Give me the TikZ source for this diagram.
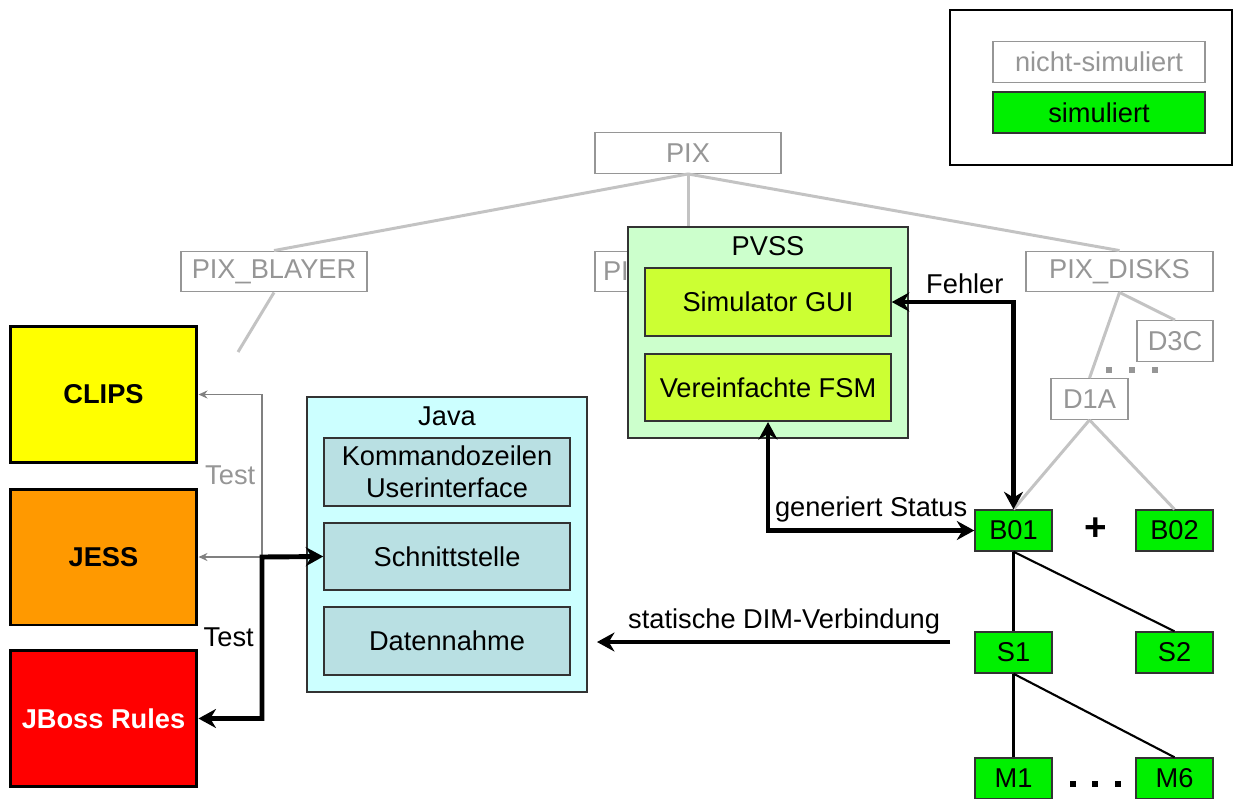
\documentclass[tikz,border=0pt]{standalone}
\usepackage{fontspec}
\setmainfont{Liberation Sans}
\usetikzlibrary{calc, arrows.meta, positioning}
\definecolor{pixgray}{RGB}{150,150,150}
\definecolor{linegray}{RGB}{195,195,195}
\definecolor{simgreen}{RGB}{0,240,0}
\definecolor{clipsyellow}{RGB}{255,255,0}
\definecolor{jessorange}{RGB}{255,153,0}
\definecolor{jbossred}{RGB}{255,0,0}
\definecolor{javacyan}{RGB}{204,255,255}
\definecolor{javabox}{RGB}{185,224,227}
\definecolor{pvssgreen}{RGB}{204,255,204}
\definecolor{pvssbox}{RGB}{204,255,51}

\begin{document}
\begin{tikzpicture}[x=0.02cm, y=-0.02cm, font=\fontsize{15.5}{18}\selectfont,
    fsmnode/.style={draw=pixgray, line width=0.8pt, fill=white, text=pixgray, minimum height=0.81cm},
    simnode/.style={draw=black!80, line width=0.8pt, fill=simgreen, minimum width=1.54cm, minimum height=0.82cm},
    engine/.style={draw=black, line width=1.7pt, minimum width=3.74cm, minimum height=2.72cm, font=\fontsize{15.5}{18}\selectfont\bfseries},
    layer/.style={draw=black!80, line width=0.9pt},
    modbox/.style={draw=black!80, line width=0.9pt, minimum width=4.92cm, minimum height=1.35cm, align=center},
    treeline/.style={draw=linegray, line width=1.7pt},
    simline/.style={draw=black, line width=1.2pt},
    bigarrow/.style={line width=2.8pt, >={Stealth[length=0.35cm, width=0.38cm]}},
    testarrow/.style={draw=gray, line width=1.1pt, ->, >={Stealth[length=0.18cm, width=0.16cm]}}]
  \useasboundingbox (0,0) rectangle (1233,798);

  % legend
  \node[draw=black, line width=0.8pt, minimum width=5.64cm, minimum height=3.1cm] (legend) at (1091,87.5) {};
  \node[fsmnode, minimum width=4.24cm] (nichtsim) at (1099,62) {nicht-simuliert};
  \node[simnode, minimum width=4.24cm] (sim) at (1099,112.5) {simuliert};

  % PIX hierarchy
  \node[fsmnode, minimum width=3.72cm] (pix) at (688,153) {PIX};
  \node[fsmnode, minimum width=3.72cm] (blayer) at (274,271.5) {PIX\_BLAYER};
  \node[fsmnode, minimum width=3.72cm, text width=3.4cm, align=left] (pi) at (688,271.5) {PI};
  \node[fsmnode, minimum width=3.74cm] (disks) at (1119.5,271.5) {PIX\_DISKS};
  \node[fsmnode, minimum width=1.52cm] (d3c) at (1175,341) {D3C};
  \node[fsmnode, minimum width=1.54cm] (d1a) at (1089.5,399) {D1A};
  \foreach \dx in {0,23,46}
    \fill[pixgray] (1106+\dx,367) rectangle ++(6,6);
  \coordinate (blfade) at (238,352);

  \node[simnode] (b01) at (1013.5,530.5) {B01};
  \node[simnode] (b02) at (1174.5,530.5) {B02};
  \node[simnode] (s1) at (1013.5,652.5) {S1};
  \node[simnode] (s2) at (1174.5,652.5) {S2};
  \node[simnode] (m1) at (1013.5,778.5) {M1};
  \node[simnode] (m6) at (1174.5,778.5) {M6};
  \node[font=\fontsize{22}{22}\selectfont\bfseries] (plus) at (1096,529) {+};
  \foreach \dx in {0,22,45}
    \fill[black] (1070+\dx,781) rectangle ++(6,6);

  \draw[treeline] (pix.south) -- (blayer.north);
  \draw[treeline] (pix.south) -- (pi.north);
  \draw[treeline] (pix.south) -- (disks.north);
  \draw[treeline] (blayer.south) -- (blfade);
  \draw[treeline] (disks.south) -- (d3c.north);
  \draw[treeline] (disks.south) -- (d1a.north);
  \draw[treeline] (d1a.south) -- (b01.north);
  \draw[treeline] (d1a.south) -- (b02.north);

  \draw[simline] (b01.south) -- (s1.north);
  \draw[simline] (b01.south) -- (s2.north);
  \draw[simline] (s1.south) -- (m1.north);
  \draw[simline] (s1.south) -- (m6.north);

  % PVSS
  \node[layer, fill=pvssgreen, minimum width=5.6cm, minimum height=4.22cm,
        label={[anchor=north, yshift=-0.08cm]north:PVSS}] (pvss) at (768,332.5) {};
  \node[modbox, fill=pvssbox] (gui) at (768,302) {Simulator GUI};
  \node[modbox, fill=pvssbox] (fsm) at (768,387.5) {Vereinfachte FSM};

  % Java
  \node[layer, fill=javacyan, minimum width=5.6cm, minimum height=5.9cm,
        label={[anchor=north, yshift=-0.08cm]north:Java}] (java) at (447,544.5) {};
  \node[modbox, fill=javabox] (cli) at (447,472) {Kommandozeilen\\Userinterface};
  \node[modbox, fill=javabox] (schnitt) at (447,556.5) {Schnittstelle};
  \node[modbox, fill=javabox] (daten) at (447,641) {Datennahme};

  % rule engines
  \node[engine, fill=clipsyellow] (clips) at (103.5,394.5) {CLIPS};
  \node[engine, fill=jessorange] (jess) at (103.5,557) {JESS};
  \node[engine, fill=jbossred, text=white] (jboss) at (103.5,718.5) {JBoss Rules};

  \coordinate (tjunc) at (262,557);
  \coordinate (dimstart) at (950,642);
  \coordinate (dimend) at (597,642);

  \draw[testarrow] (tjunc) -- (jess.east);
  \draw[testarrow] (tjunc) |- node[pos=0.25, left, text=pixgray] {Test} (clips.east);
  \draw[bigarrow, <->] (jboss.east) -| node[pos=0.75, left] {Test} (tjunc) -- (schnitt.west);
  \draw[bigarrow, <->] (gui.east) -| node[pos=0.3, above] {Fehler} (b01.north);
  \draw[bigarrow, <->] (fsm.south) |- node[pos=0.75, above] {generiert Status} (b01.west);
  \draw[bigarrow, ->] (dimstart) -- node[pos=0.47, above] {statische DIM-Verbindung} (dimend);
\end{tikzpicture}
\end{document}
